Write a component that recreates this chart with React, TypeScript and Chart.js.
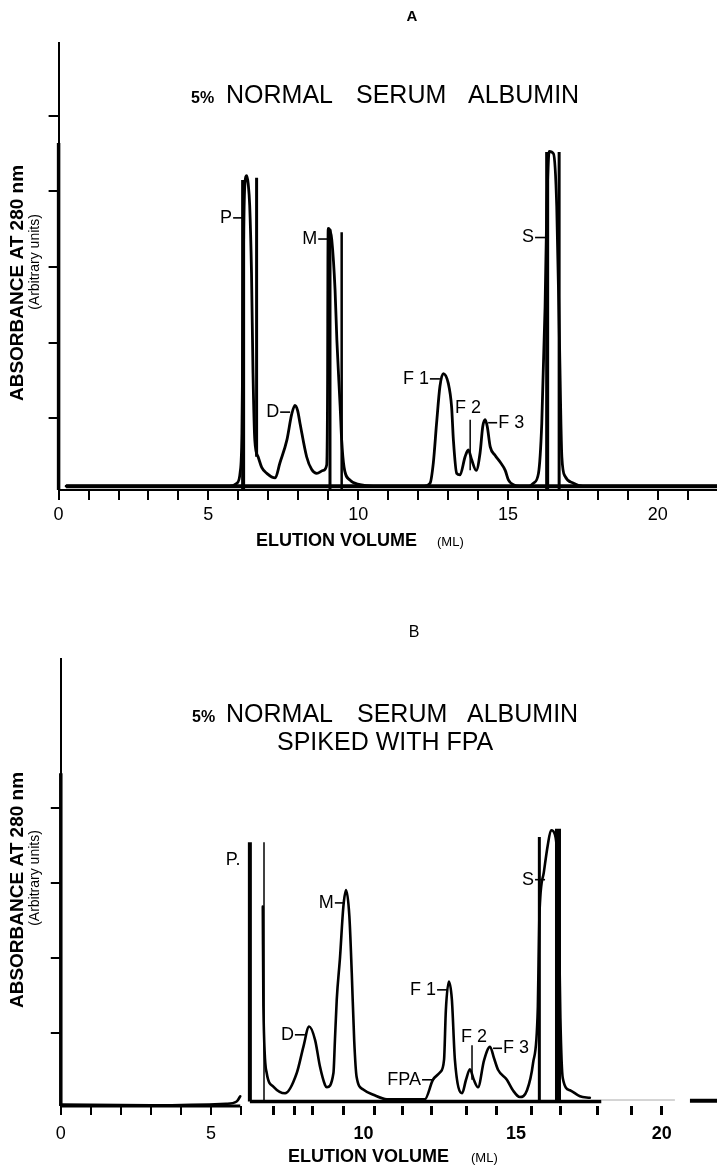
import React, { useEffect, useRef } from 'react';
import { Chart, registerables } from 'chart.js';

Chart.register(...registerables);

const FONT = '"Liberation Sans", Arial, Helvetica, sans-serif';

// ---------------- Panel A : 5% normal serum albumin ----------------
const volumeA = [0.25, 5.7, 5.95, 6.06, 6.12, 6.15, 6.18, 6.22, 6.28, 6.33, 6.38, 6.44, 6.49, 6.55, 6.66, 6.78, 6.95, 7.23, 7.39, 7.62, 7.78, 7.89, 7.98, 8.06, 8.28, 8.45, 8.62, 8.84, 8.95, 8.98, 8.99, 9.0, 9.06, 9.12, 9.23, 9.29, 9.4, 9.45, 9.53, 9.73, 10.06, 10.5, 12.2, 12.4, 12.51, 12.62, 12.73, 12.84, 13.01, 13.12, 13.18, 13.29, 13.4, 13.57, 13.68, 13.79, 13.94, 14.07, 14.16, 14.24, 14.31, 14.41, 14.57, 14.74, 14.91, 15.02, 15.18, 15.4, 15.7, 15.85, 16.02, 16.13, 16.24, 16.3, 16.38, 16.52, 16.63, 16.72, 16.8, 16.91, 17.19, 17.5, 21.98];
const absorbanceA = [0.1, 0.1, 0.14, 0.28, 0.8, 2.0, 3.5, 4.1, 4.21, 4.1, 3.81, 2.92, 1.6, 0.71, 0.49, 0.35, 0.27, 0.21, 0.41, 0.71, 1.05, 1.17, 1.1, 0.93, 0.49, 0.32, 0.27, 0.31, 0.38, 1.5, 3.0, 3.51, 3.48, 3.36, 2.69, 2.03, 1.15, 0.71, 0.35, 0.18, 0.12, 0.1, 0.1, 0.14, 0.41, 0.94, 1.42, 1.59, 1.46, 1.15, 0.71, 0.27, 0.25, 0.49, 0.58, 0.45, 0.31, 0.54, 0.89, 0.98, 0.89, 0.62, 0.51, 0.42, 0.31, 0.18, 0.12, 0.1, 0.1, 0.14, 0.27, 0.93, 2.47, 3.8, 4.53, 4.5, 3.8, 2.03, 0.49, 0.23, 0.14, 0.1, 0.1];

// vertical fraction / marker strokes (x, from, to)
const markerXA = [0, 6.16, 6.61, 9.06, 9.45, 13.74, 16.31, 16.71];
const markerFromA = [0.05, 0.05, 0.49, 0.05, 0.05, 0.31, 0.05, 0.05];
const markerToA = [4.64, 4.15, 4.18, 3.5, 3.46, 0.98, 4.52, 4.52];
const markerWidthA = [3.5, 4, 3, 3, 2.5, 1.5, 4, 3];

const peakNamesA = ['P', 'M', 'D', 'F 1', 'F 2', 'F 3', 'S'];
const peakXA = [6.16, 9.0, 7.73, 12.73, 13.67, 14.34, 16.24];
const peakYA = [3.65, 3.37, 1.08, 1.52, 1.14, 0.94, 3.39];
const peakSideA = ['left', 'left', 'left', 'left', 'none', 'right', 'left'];

const xTicksA = [0, 1, 2, 3, 4, 5, 6, 7, 8, 9, 10, 11, 12, 13, 14, 15, 16, 17, 18, 19, 20, 21];
const xLabelValuesA = [0, 5, 10, 15, 20];
const xLabelTextsA = ['0', '5', '10', '15', '20'];
const yTicksA = [1, 2, 3, 4, 5];

// ---------------- Panel B : spiked with FPA ----------------
const volumeB0 = [0, 3, 5.5, 5.85, 5.97];
const absorbanceB0 = [0.05, 0.04, 0.06, 0.09, 0.16];

const volumeB = [6.72, 6.74, 6.85, 7.07, 7.46, 7.85, 8.07, 8.26, 8.46, 8.62, 8.79, 8.85, 9.07, 9.12, 9.18, 9.29, 9.4, 9.49, 9.6, 9.68, 9.76, 9.84, 10.06, 10.4, 10.85, 12.11, 12.38, 12.62, 12.75, 12.81, 12.91, 13.01, 13.11, 13.35, 13.48, 13.61, 13.74, 13.88, 14.08, 14.28, 14.41, 14.55, 14.84, 15.04, 15.27, 15.51, 15.71, 15.87, 15.92, 16.07, 16.2, 16.31, 16.44, 16.55, 16.62, 16.7, 16.94, 17.27, 17.6];
const absorbanceB = [2.69, 1.36, 0.47, 0.29, 0.2, 0.47, 0.82, 1.09, 0.91, 0.56, 0.31, 0.28, 0.47, 0.91, 1.45, 2.02, 2.69, 2.91, 2.56, 1.8, 0.91, 0.42, 0.25, 0.18, 0.12, 0.12, 0.38, 0.48, 0.65, 1.31, 1.69, 1.45, 0.65, 0.2, 0.38, 0.52, 0.38, 0.28, 0.64, 0.82, 0.67, 0.51, 0.38, 0.24, 0.15, 0.24, 0.6, 1.35, 2.55, 3.15, 3.51, 3.71, 3.65, 3.0, 1.2, 0.4, 0.24, 0.16, 0.14];

const markerXB = [0, 6.29, 6.76, 13.68, 15.92, 16.54];
const markerFromB = [0.03, 0.09, 0.09, 0.38, 0.09, 0.09];
const markerToB = [4.47, 3.55, 3.55, 0.84, 3.62, 3.73];
const markerWidthB = [3.5, 4, 1.5, 1.5, 3, 6];

// baseline (x-axis) pieces of the pasted figure
const axisFromB = [0, 6.29, 17.98, 20.93];
const axisToB = [5.97, 17.98, 20.43, 21.83];
const axisLevelB = [0.03, 0.09, 0.11, 0.1];
const axisWidthB = [3, 3.5, 1, 4];
const axisColorB = ['#000', '#000', '#aaa', '#000'];

const peakNamesB = ['P.', 'M', 'D', 'FPA', 'F 1', 'F 2', 'F 3', 'S'];
const peakXB = [5.73, 9.45, 8.12, 12.35, 12.85, 13.75, 14.38, 16.11];
const peakYB = [3.31, 2.74, 0.98, 0.38, 1.58, 0.95, 0.8, 3.05];
const peakSideB = ['none', 'left', 'left', 'left', 'left', 'none', 'right', 'left'];

const xTicksB = [0, 1, 2, 3, 4, 5, 6, 7.06, 7.79, 8.39, 9.39, 10.07, 10.45, 11.37, 12.34, 13.5, 14.5, 15.14, 15.67, 16.63, 17.87, 18.97, 19.99];
const xLabelValuesB = [0, 5, 10.07, 15.14, 19.99];
const xLabelTextsB = ['0', '5', '10', '15', '20'];
const labelOnlyTicksB = [10.07, 15.14];
const yTicksB = [1, 2, 3, 4];

// ---------------- helpers ----------------
const W = 717;
const H = 583;

function zip(xs: number[], ys: number[]) {
  const n = Math.min(xs.length, ys.length);
  const out: { x: number; y: number }[] = [];
  for (let i = 0; i < n; i++) out.push({ x: xs[i], y: ys[i] });
  return out;
}

function curve(xs: number[], ys: number[], width: number) {
  return {
    type: 'line',
    data: zip(xs, ys),
    borderColor: '#000',
    borderWidth: width,
    pointRadius: 0,
    fill: false,
    cubicInterpolationMode: 'monotone',
    borderJoinStyle: 'round',
    borderCapStyle: 'round',
    clip: false,
  };
}

function verticals(xs: number[], from: number[], to: number[], widths: number[]) {
  return xs.map((x, i) => ({
    type: 'line',
    data: [{ x, y: from[i] }, { x, y: to[i] }],
    borderColor: '#000',
    borderWidth: widths[i],
    pointRadius: 0,
    fill: false,
    borderCapStyle: 'butt',
    clip: false,
  }));
}

function horizontals(from: number[], to: number[], level: number[], widths: number[], colors: string[]) {
  return from.map((x, i) => ({
    type: 'line',
    data: [{ x, y: level[i] }, { x: to[i], y: level[i] }],
    borderColor: colors[i],
    borderWidth: widths[i],
    pointRadius: 0,
    fill: false,
    borderCapStyle: 'butt',
    clip: false,
  }));
}

type TextItem = { text: string; x: number; y: number; font: string; align?: CanvasTextAlign; rotate?: boolean };

function annotations(items: TextItem[], names: string[], xs: number[], ys: number[], sides: string[]) {
  return {
    id: 'annotations',
    afterDraw(chart: any) {
      const ctx = chart.ctx as CanvasRenderingContext2D;
      const sx = chart.scales.x;
      const sy = chart.scales.y;
      ctx.save();
      ctx.fillStyle = '#000';
      ctx.strokeStyle = '#000';
      for (const t of items) {
        ctx.font = t.font;
        if (t.rotate) {
          ctx.save();
          ctx.translate(t.x, t.y);
          ctx.rotate(-Math.PI / 2);
          ctx.textAlign = 'center';
          ctx.textBaseline = 'middle';
          ctx.fillText(t.text, 0, 0);
          ctx.restore();
        } else {
          ctx.textAlign = t.align || 'left';
          ctx.textBaseline = 'alphabetic';
          ctx.fillText(t.text, t.x, t.y);
        }
      }
      ctx.font = `18px ${FONT}`;
      ctx.textBaseline = 'middle';
      ctx.lineWidth = 1.6;
      names.forEach((name, i) => {
        const px = sx.getPixelForValue(xs[i]);
        const py = sy.getPixelForValue(ys[i]);
        if (sides[i] === 'left') {
          ctx.beginPath();
          ctx.moveTo(px - 10, py);
          ctx.lineTo(px, py);
          ctx.stroke();
          ctx.textAlign = 'right';
          ctx.fillText(name, px - 11, py);
        } else if (sides[i] === 'right') {
          ctx.beginPath();
          ctx.moveTo(px, py);
          ctx.lineTo(px + 9, py);
          ctx.stroke();
          ctx.textAlign = 'left';
          ctx.fillText(name, px + 10, py);
        } else {
          ctx.textAlign = 'center';
          ctx.fillText(name, px, py);
        }
      });
      ctx.restore();
    },
  };
}

function labelFor(values: number[], texts: string[], v: number) {
  const i = values.findIndex((a) => Math.abs(a - v) < 1e-6);
  return i >= 0 ? texts[i] : '';
}

function buildA(canvas: HTMLCanvasElement) {
  const items: TextItem[] = [
    { text: 'A', x: 412, y: 21, font: `bold 15px ${FONT}`, align: 'center' },
    { text: '5%', x: 191, y: 103, font: `bold 16px ${FONT}` },
    { text: 'NORMAL', x: 226, y: 103, font: `25px ${FONT}` },
    { text: 'SERUM', x: 356, y: 103, font: `25px ${FONT}` },
    { text: 'ALBUMIN', x: 468, y: 103, font: `25px ${FONT}` },
    { text: 'ABSORBANCE AT 280 nm', x: 18, y: 283, font: `bold 19px ${FONT}`, rotate: true },
    { text: '(Arbitrary units)', x: 35, y: 262, font: `14px ${FONT}`, rotate: true },
    { text: 'ELUTION VOLUME', x: 256, y: 546, font: `bold 18px ${FONT}` },
    { text: '(ML)', x: 437, y: 546, font: `13px ${FONT}` },
  ];
  return new Chart(canvas, {
    type: 'line',
    data: {
      datasets: [
        curve(volumeA, absorbanceA, 2.8),
        ...verticals(markerXA, markerFromA, markerToA, markerWidthA),
        ...horizontals([0.25], [21.98], [0.1], [4], ['#000']),
      ] as any,
    },
    options: {
      responsive: false,
      animation: false,
      devicePixelRatio: 1,
      layout: { padding: { top: 42.5, left: 0, right: 0, bottom: 0 } },
      plugins: { legend: { display: false }, tooltip: { enabled: false }, title: { display: false } },
      scales: {
        x: {
          type: 'linear',
          min: 0,
          max: 21.98,
          afterBuildTicks: (s: any) => { s.ticks = xTicksA.map((v) => ({ value: v })); },
          afterFit: (s: any) => { s.height = 93; },
          border: { display: true, color: '#000', width: 2 },
          grid: { display: true, drawOnChartArea: false, drawTicks: true, tickLength: 10, color: '#000', lineWidth: 2 },
          ticks: {
            autoSkip: false, maxRotation: 0, minRotation: 0, padding: 4, color: '#000',
            font: { family: FONT, size: 18 },
            callback: (v: any) => labelFor(xLabelValuesA, xLabelTextsA, Number(v)),
          },
        },
        y: {
          type: 'linear',
          min: 0.05,
          max: 5.97,
          afterBuildTicks: (s: any) => { s.ticks = yTicksA.map((v) => ({ value: v })); },
          afterFit: (s: any) => { s.width = 58.6; },
          border: { display: true, color: '#000', width: 2 },
          grid: { display: true, drawOnChartArea: false, drawTicks: true, tickLength: 10, color: '#000', lineWidth: 2 },
          ticks: { display: false },
        },
      },
    } as any,
    plugins: [annotations(items, peakNamesA, peakXA, peakYA, peakSideA)],
  });
}

function buildB(canvas: HTMLCanvasElement) {
  const items: TextItem[] = [
    { text: 'B', x: 414, y: 54, font: `16px ${FONT}`, align: 'center' },
    { text: '5%', x: 192, y: 139, font: `bold 16px ${FONT}` },
    { text: 'NORMAL', x: 226, y: 139, font: `25px ${FONT}` },
    { text: 'SERUM', x: 357, y: 139, font: `25px ${FONT}` },
    { text: 'ALBUMIN', x: 467, y: 139, font: `25px ${FONT}` },
    { text: 'SPIKED WITH FPA', x: 277, y: 167, font: `25px ${FONT}` },
    { text: 'ABSORBANCE AT 280 nm', x: 18, y: 307, font: `bold 19px ${FONT}`, rotate: true },
    { text: '(Arbitrary units)', x: 35, y: 295, font: `14px ${FONT}`, rotate: true },
    { text: 'ELUTION VOLUME', x: 288, y: 579, font: `bold 18px ${FONT}` },
    { text: '(ML)', x: 471, y: 579, font: `13px ${FONT}` },
  ];
  return new Chart(canvas, {
    type: 'line',
    data: {
      datasets: [
        curve(volumeB0, absorbanceB0, 2.6),
        curve(volumeB, absorbanceB, 2.6),
        ...verticals(markerXB, markerFromB, markerToB, markerWidthB),
        ...horizontals(axisFromB, axisToB, axisLevelB, axisWidthB, axisColorB),
      ] as any,
    },
    options: {
      responsive: false,
      animation: false,
      devicePixelRatio: 1,
      layout: { padding: { top: 75.6, left: 0, right: 0, bottom: 0 } },
      plugins: { legend: { display: false }, tooltip: { enabled: false }, title: { display: false } },
      scales: {
        x: {
          type: 'linear',
          min: 0,
          max: 21.83,
          afterBuildTicks: (s: any) => { s.ticks = xTicksB.map((v) => ({ value: v })); },
          afterFit: (s: any) => { s.height = 60; },
          border: { display: false },
          grid: {
            display: true, drawOnChartArea: false, drawTicks: true, tickLength: 9,
            color: (c: any) => (c.tick && labelOnlyTicksB.includes(c.tick.value) ? 'rgba(0,0,0,0)' : '#000'),
            lineWidth: (c: any) => (c.tick && c.tick.value > 6.5 ? 3 : 2),
          },
          ticks: {
            autoSkip: false, maxRotation: 0, minRotation: 0, padding: 8, color: '#000',
            font: (c: any) => ({ family: FONT, size: 18, weight: c.tick && c.tick.value > 6.5 ? 'bold' : 'normal' }),
            callback: (v: any) => labelFor(xLabelValuesB, xLabelTextsB, Number(v)),
          },
        },
        y: {
          type: 'linear',
          min: 0.03,
          max: 6.0,
          afterBuildTicks: (s: any) => { s.ticks = yTicksB.map((v) => ({ value: v })); },
          afterFit: (s: any) => { s.width = 60.8; },
          border: { display: true, color: '#000', width: 2 },
          grid: { display: true, drawOnChartArea: false, drawTicks: true, tickLength: 10, color: '#000', lineWidth: 2 },
          ticks: { display: false },
        },
      },
    } as any,
    plugins: [annotations(items, peakNamesB, peakXB, peakYB, peakSideB)],
  });
}

export default function App() {
  const refA = useRef<HTMLCanvasElement | null>(null);
  const refB = useRef<HTMLCanvasElement | null>(null);

  useEffect(() => {
    const a = refA.current ? buildA(refA.current) : null;
    const b = refB.current ? buildB(refB.current) : null;
    return () => {
      if (a) a.destroy();
      if (b) b.destroy();
    };
  }, []);

  return (
    <div style={{ position: 'absolute', left: 0, top: 0, width: W, height: H * 2, background: '#fff', overflow: 'hidden' }}>
      <canvas ref={refA} width={W} height={H} style={{ display: 'block', width: W, height: H }} />
      <canvas ref={refB} width={W} height={H} style={{ display: 'block', width: W, height: H }} />
    </div>
  );
}
